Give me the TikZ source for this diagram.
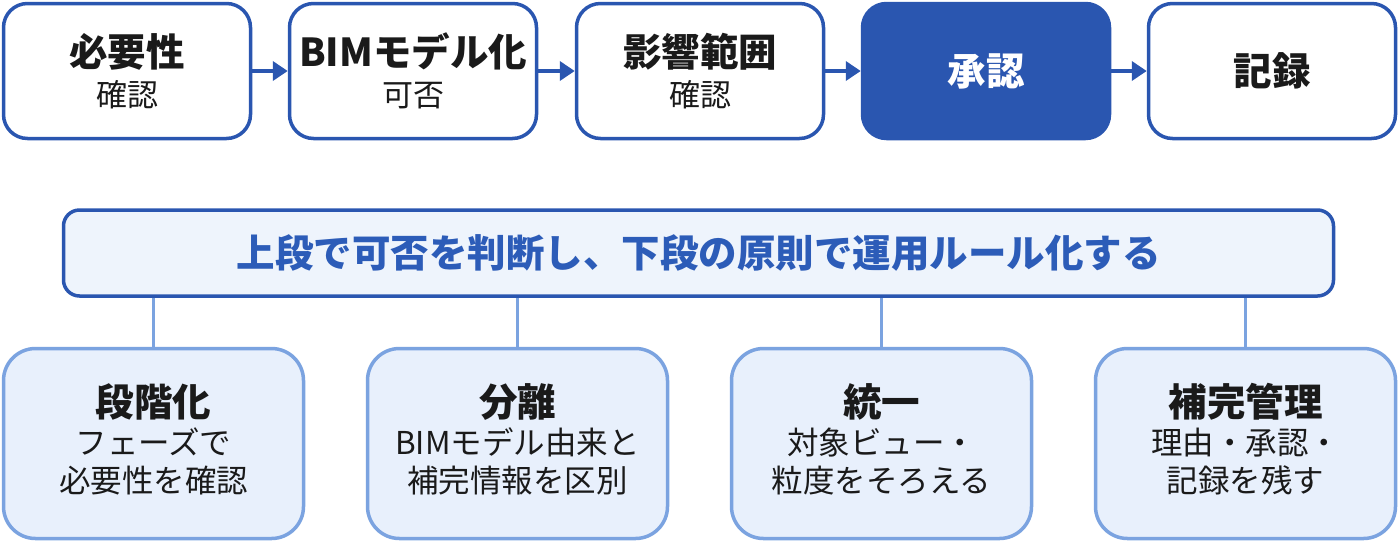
\documentclass[tikz,border=0pt]{standalone}
\usepackage{fontspec}
\setmainfont{Noto Sans CJK JP}
\usetikzlibrary{arrows.meta}
\definecolor{dblue}{HTML}{2A56B0}
\definecolor{bannerfill}{HTML}{EEF4FC}
\definecolor{bannertext}{HTML}{2C5CB8}
\definecolor{lfill}{HTML}{E8F0FC}
\definecolor{lborder}{HTML}{7BA3E0}
\definecolor{ink}{HTML}{1A1A1A}
\tikzset{
  topbox/.style={draw=dblue, line width=3.5pt, fill=white, rounded corners=24pt,
    minimum width=247pt, minimum height=135pt, text=ink, align=center,
    font=\fontsize{31}{43}\selectfont, inner sep=0pt},
  topsel/.style={topbox, fill=dblue, text=white},
  banner/.style={draw=dblue, line width=3.5pt, fill=bannerfill, rounded corners=16pt,
    minimum width=1270pt, minimum height=86pt, text=bannertext,
    font=\fontsize{38.5}{42}\selectfont\bfseries, inner sep=0pt},
  botbox/.style={draw=lborder, line width=3.5pt, fill=lfill, rounded corners=32pt,
    minimum width=300pt, minimum height=190pt, inner sep=0pt},
  bottxt/.style={text=ink, align=center, font=\fontsize{31.5}{38}\selectfont, inner sep=0pt},
  flow/.style={draw=dblue, line width=4pt, -{Triangle[length=15pt,width=19pt]}},
  link/.style={draw=lborder, line width=3.5pt}
}
\newcommand{\ttlA}[1]{{\fontsize{38.5}{43}\selectfont\bfseries #1}}
\begin{document}
\begin{tikzpicture}[x=1pt,y=-1pt]
\useasboundingbox (0,0) rectangle (1400,542);
% top row
\node[topbox] (s1) at (127,71) {\ttlA{必要性}\\[-3pt]確認};
\node[topbox] (s2) at (413,71) {\ttlA{BIMモデル化}\\[-3pt]可否};
\node[topbox] (s3) at (700,71) {\ttlA{影響範囲}\\[-3pt]確認};
\node[topsel] (s4) at (986,71) {\ttlA{承認}};
\node[topbox] (s5) at (1272,71) {\ttlA{記録}};
\draw[flow] (s1) -- (s2);
\draw[flow] (s2) -- (s3);
\draw[flow] (s3) -- (s4);
\draw[flow] (s4) -- (s5);
% banner
\node[banner] (b) at (698.5,253) {上段で可否を判断し、下段の原則で運用ルール化する};
% bottom row
\node[botbox] (p1) at (153.5,443.5) {};
\node[botbox] (p2) at (517.5,443.5) {};
\node[botbox] (p3) at (881.5,443.5) {};
\node[botbox] (p4) at (1245.5,443.5) {};
\node[bottxt] (t1) at ([yshift=4pt]p1.center) {\ttlA{段階化}\\[0pt]フェーズで\\必要性を確認};
\node[bottxt] (t2) at ([yshift=4pt]p2.center) {\ttlA{分離}\\[0pt]BIMモデル由来と\\補完情報を区別};
\node[bottxt] (t3) at ([yshift=4pt]p3.center) {\ttlA{統一}\\[0pt]対象ビュー・\\粒度をそろえる};
\node[bottxt] (t4) at ([yshift=4pt]p4.center) {\ttlA{補完管理}\\[0pt]理由・承認・\\記録を残す};
\draw[link] (b.south -| p1.north) -- (p1.north);
\draw[link] (b.south -| p2.north) -- (p2.north);
\draw[link] (b.south -| p3.north) -- (p3.north);
\draw[link] (b.south -| p4.north) -- (p4.north);
\end{tikzpicture}
\end{document}
